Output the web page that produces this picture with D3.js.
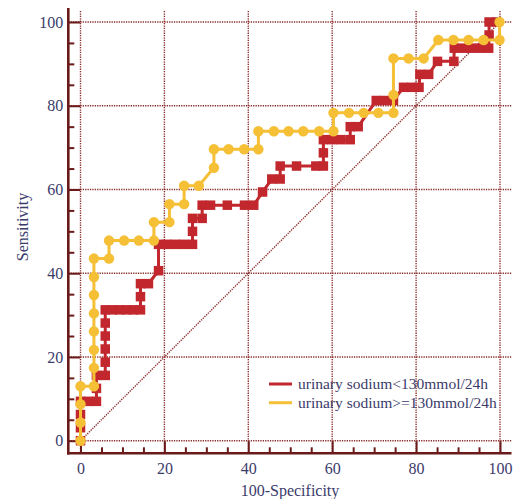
<!DOCTYPE html>
<html>
<head>
<meta charset="utf-8">
<script src="https://cdn.jsdelivr.net/npm/d3@7"></script>
<style>
  body { margin: 0; background: #fff; }
  svg { display: block; font-family: "Liberation Serif", "Times New Roman", serif; }
</style>
</head>
<body>
<div id="chart"></div>
<script>
// ROC curves (100-Specificity, Sensitivity)
const lowX  = [0, 0, 0, 0, 1.9, 3.8, 3.8, 3.8, 5.9, 5.9, 5.9, 5.9, 5.9, 5.9, 7.6, 9.3, 11.0, 12.6, 14.3, 14.3, 14.3, 16.2,
               18.6, 18.6, 20.6, 22.6, 24.6, 26.7, 26.7, 26.7, 29.0, 29.0, 31.0, 35.0, 39.1, 41.3, 43.4, 45.6, 47.6,
               47.6, 51.5, 56.1, 57.9, 57.9, 57.9, 60.0, 62.1, 64.3, 64.3, 66.2, 70.5, 72.5, 74.6, 77.0, 79.0, 80.7,
               80.9, 83.0, 85.1, 89.0, 89.1, 91.1, 93.1, 95.2, 97.3, 97.4, 97.4, 99.2];
const lowY  = [0, 3.1, 6.25, 9.4, 9.4, 9.4, 12.5, 15.6, 15.6, 18.75, 21.9, 25, 28.1, 31.25, 31.25, 31.25, 31.25, 31.25, 31.25, 34.4, 37.5, 37.5,
               40.6, 46.9, 46.9, 46.9, 46.9, 46.9, 50, 53.1, 53.1, 56.25, 56.25, 56.25, 56.25, 56.25, 59.4, 62.5, 62.5,
               65.6, 65.6, 65.6, 65.6, 68.75, 71.9, 71.9, 71.9, 71.9, 75, 75, 81.25, 81.25, 81.25, 84.4, 84.4, 84.4,
               87.5, 87.5, 90.6, 90.6, 93.75, 93.75, 93.75, 93.75, 93.75, 96.9, 100, 100];

const highX = [0, 0, 0, 0, 3.2, 3.2, 3.2, 3.2, 3.2, 3.2, 3.2, 3.2, 6.8, 6.8, 10.4, 13.9, 17.5, 17.5, 21.2, 21.2, 24.7, 24.7,
               28.2, 31.8, 31.8, 35.3, 39.0, 42.4, 42.4, 46.1, 49.6, 53.1, 56.9, 60.3, 60.3, 64.0, 67.5, 71.0, 74.6, 74.6,
               74.6, 78.2, 81.8, 85.3, 88.9, 92.5, 96.1, 99.9, 99.9];
const highY = [0, 4.35, 8.7, 13.0, 13.0, 17.4, 21.7, 26.1, 30.4, 34.8, 39.1, 43.5, 43.5, 47.8, 47.8, 47.8, 47.8, 52.2, 52.2, 56.5, 56.5, 60.9,
               60.9, 65.2, 69.6, 69.6, 69.6, 69.6, 73.9, 73.9, 73.9, 73.9, 73.9, 73.9, 78.3, 78.3, 78.3, 78.3, 78.3, 82.6,
               91.3, 91.3, 91.3, 95.7, 95.7, 95.7, 95.7, 95.7, 100];

const majorTicks = [0, 20, 40, 60, 80, 100];
const minorTicks = d3.range(0, 101, 5).filter(v => v % 20 !== 0);
const seriesNames = ["urinary sodium<130mmol/24h", "urinary sodium>=130mmol/24h"];

const width = 514, height = 499;
const red = "#c1272d", yellow = "#f5bf36", axisColor = "#6b1a1a", gridColor = "#8a2f2f", textColor = "#3b3b6b";

const svg = d3.select("#chart").append("svg")
    .attr("width", width)
    .attr("height", height);

const x = d3.scaleLinear().domain([0, 100]).range([80.5, 500]);
const y = d3.scaleLinear().domain([0, 100]).range([440.7, 22]);

const axisX = 68.3, axisY = 453.3, plotTop = 11, plotRight = 511.5;

// grid
svg.append("g").selectAll("line")
  .data(majorTicks)
  .join("line")
    .attr("x1", d => x(d)).attr("x2", d => x(d))
    .attr("y1", plotTop).attr("y2", axisY)
    .attr("stroke", gridColor).attr("stroke-width", 1.4)
    .attr("stroke-dasharray", "1.3,1.1");

svg.append("g").selectAll("line")
  .data(majorTicks)
  .join("line")
    .attr("x1", axisX).attr("x2", plotRight)
    .attr("y1", d => y(d)).attr("y2", d => y(d))
    .attr("stroke", gridColor).attr("stroke-width", 1.4)
    .attr("stroke-dasharray", "1.3,1.1");

// reference diagonal
svg.append("line")
    .attr("x1", x(0)).attr("y1", y(0))
    .attr("x2", x(100)).attr("y2", y(100))
    .attr("stroke", gridColor).attr("stroke-width", 1.4)
    .attr("stroke-dasharray", "1.3,1.1");

// axes
function styleAxis(g) {
  g.select(".domain").remove();
  g.selectAll(".tick line").attr("stroke", axisColor).attr("stroke-width", 2);
  g.selectAll(".tick text").attr("fill", textColor).style("font-size", "16px")
    .style("font-family", "'Liberation Serif', serif");
}

svg.append("g")
    .attr("transform", `translate(${axisX},0)`)
    .call(d3.axisLeft(y).tickValues(majorTicks).tickSizeInner(-12).tickSizeOuter(0).tickPadding(5))
    .call(styleAxis);
svg.append("g")
    .attr("transform", `translate(${axisX},0)`)
    .call(d3.axisLeft(y).tickValues(minorTicks).tickSizeInner(-6).tickSizeOuter(0).tickFormat(""))
    .call(styleAxis);

svg.append("g")
    .attr("transform", `translate(0,${axisY})`)
    .call(d3.axisBottom(x).tickValues(majorTicks).tickSizeInner(-12).tickSizeOuter(0).tickPadding(9))
    .call(styleAxis);
svg.append("g")
    .attr("transform", `translate(0,${axisY})`)
    .call(d3.axisBottom(x).tickValues(minorTicks).tickSizeInner(-6).tickSizeOuter(0).tickFormat(""))
    .call(styleAxis);

svg.append("line")
    .attr("x1", axisX).attr("x2", axisX).attr("y1", 8).attr("y2", axisY + 1.2)
    .attr("stroke", axisColor).attr("stroke-width", 2.6);
svg.append("line")
    .attr("x1", axisX - 1.2).attr("x2", plotRight).attr("y1", axisY).attr("y2", axisY)
    .attr("stroke", axisColor).attr("stroke-width", 2.6);

// axis titles
svg.append("text")
    .attr("transform", "translate(28,227) rotate(-90)")
    .attr("text-anchor", "middle")
    .attr("fill", textColor)
    .style("font-size", "16px")
    .text("Sensitivity");

svg.append("text")
    .attr("x", 290).attr("y", 496)
    .attr("text-anchor", "middle")
    .attr("fill", textColor)
    .style("font-size", "16px")
    .text("100-Specificity");

// series
const line = d3.line().x(d => x(d[0])).y(d => y(d[1]));
const lowPts = lowX.map((v, i) => [v, lowY[i]]);
const highPts = highX.map((v, i) => [v, highY[i]]);

svg.append("path")
    .datum(lowPts)
    .attr("d", line)
    .attr("fill", "none").attr("stroke", red).attr("stroke-width", 3);

const sq = 9.5;
svg.append("g").selectAll("rect")
  .data(lowPts)
  .join("rect")
    .attr("x", d => x(d[0]) - sq / 2)
    .attr("y", d => y(d[1]) - sq / 2)
    .attr("width", sq).attr("height", sq)
    .attr("fill", red);

svg.append("path")
    .datum(highPts)
    .attr("d", line)
    .attr("fill", "none").attr("stroke", yellow).attr("stroke-width", 3);

svg.append("g").selectAll("circle")
  .data(highPts)
  .join("circle")
    .attr("cx", d => x(d[0]))
    .attr("cy", d => y(d[1]))
    .attr("r", 5.2)
    .attr("fill", yellow);

// legend
const legend = svg.append("g").attr("transform", "translate(269,384)");
legend.selectAll("g")
  .data(seriesNames)
  .join("g")
    .attr("transform", (d, i) => `translate(0,${i * 18.7})`)
    .each(function(d, i) {
      const g = d3.select(this);
      g.append("line").attr("x1", 0).attr("x2", 23)
        .attr("stroke", i ? yellow : red).attr("stroke-width", 3);
      g.append("text").attr("x", 29).attr("y", 5)
        .attr("fill", textColor).style("font-size", "15.5px")
        .text(d);
    });
</script>
</body>
</html>
